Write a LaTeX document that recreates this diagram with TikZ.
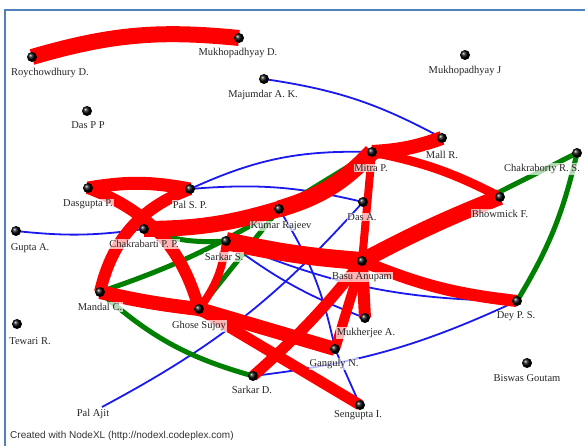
\documentclass[tikz,border=0pt]{standalone}
\usepackage{fontspec}
\setmainfont{Liberation Serif}
\setsansfont{Liberation Sans}
\pgfdeclarelayer{bgfill}
\pgfdeclarelayer{edges}
\pgfsetlayers{bgfill,edges,main}
\definecolor{frameblue}{HTML}{4F81BD}
\definecolor{ngreen}{HTML}{008000}
\definecolor{nblue}{HTML}{1A1AF0}
\definecolor{nred}{HTML}{FF0000}
\tikzset{
  vball/.style={circle, inner sep=0pt, minimum size=10pt, shading=ball, ball color=black},
  vlabel/.style={font=\fontsize{10.5}{11}\selectfont, text=black!85, fill=white, fill opacity=0.7, text opacity=1, inner sep=0.8pt},
  redge/.style={draw=nred, line cap=butt},
  gedge/.style={draw=ngreen, line width=5pt, line cap=butt},
  bedge/.style={draw=nblue, line width=1.8pt},
}
\begin{document}
\begin{tikzpicture}[x=1pt,y=-1pt]
\useasboundingbox (0,0) rectangle (585,446);
\begin{pgfonlayer}{bgfill}
\fill[white] (0,0) rectangle (585,446);
\draw[frameblue, line width=2pt] (5,446) -- (5,10) -- (585,10);
\end{pgfonlayer}

% vertices
\node[vball] (roy) at (32,57) {};
\node[vball] (mukd) at (239,38) {};
\node[vball] (maj) at (264,79) {};
\node[vball] (dpp) at (87,111) {};
\node[vball] (mukj) at (465,55) {};
\node[vball] (dasg) at (88,188) {};
\node[vball] (pal) at (190,189) {};
\node[vball] (gupta) at (16,231) {};
\node[vball] (chak) at (144,229) {};
\node[vball] (sars) at (226,241) {};
\node[vball] (kumar) at (279,209) {};
\node[vball] (mitra) at (372,152) {};
\node[vball] (mall) at (442,138) {};
\node[vball] (dasa) at (363,202) {};
\node[vball] (bhow) at (500,197) {};
\node[vball] (chakr) at (577,153) {};
\node[vball] (basu) at (362,261) {};
\node[vball] (mandal) at (100,292) {};
\node[vball] (ghose) at (199,309) {};
\node[vball] (mukh) at (365,318) {};
\node[vball] (gang) at (335,349) {};
\node[vball] (dey) at (517,301) {};
\node[vball] (tewari) at (17,324) {};
\node[vball] (sard) at (253,376) {};
\node[vball] (sengu) at (360,405) {};
\node[vball] (biswas) at (527,363) {};
\coordinate (palajit) at (102,407);

% labels
\node[vlabel] (roy-l) at (50,73) {Roychowdhury D.};
\node[vlabel] (mukd-l) at (238,53) {Mukhopadhyay D.};
\node[vlabel] (maj-l) at (263,95) {Majumdar A. K.};
\node[vlabel] (dpp-l) at (88,125) {Das P P};
\node[vlabel] (mukj-l) at (465,71) {Mukhopadhyay J};
\node[vlabel] (dasg-l) at (88,204) {Dasgupta P.};
\node[vlabel] (pal-l) at (190,205) {Pal S. P.};
\node[vlabel] (gupta-l) at (30,248) {Gupta A.};
\node[vlabel] (chak-l) at (144,244) {Chakrabarti P. P.};
\node[vlabel] (sars-l) at (224,257) {Sarkar S.};
\node[vlabel] (kumar-l) at (281,226) {Kumar Rajeev};
\node[vlabel] (mitra-l) at (371,168) {Mitra P.};
\node[vlabel] (mall-l) at (442,155) {Mall R.};
\node[vlabel] (dasa-l) at (362,217) {Das A.};
\node[vlabel] (bhow-l) at (500,214) {Bhowmick F.};
\node[vlabel] (chakr-l) at (542,169) {Chakraborty R. S.};
\node[vlabel] (basu-l) at (362,277) {Basu Anupam};
\node[vlabel] (mandal-l) at (100,307) {Mandal C.};
\node[vlabel] (ghose-l) at (199,326) {Ghose Sujoy};
\node[vlabel] (mukh-l) at (366,333) {Mukherjee A.};
\node[vlabel] (gang-l) at (334,364) {Ganguly N.};
\node[vlabel] (dey-l) at (516,316) {Dey P. S.};
\node[vlabel] (tewari-l) at (30,341) {Tewari R.};
\node[vlabel] (sard-l) at (252,390) {Sarkar D.};
\node[vlabel] (sengu-l) at (358,415) {Sengupta I.};
\node[vlabel] (biswas-l) at (527,378) {Biswas Goutam};
\node[vlabel] (palajit-l) at (93,414) {Pal Ajit};
\node[anchor=west, font=\sffamily\fontsize{10}{11}\selectfont, text=black!80, inner sep=0pt] (footer) at (10,436) {Created with NodeXL (http://nodexl.codeplex.com)};

\begin{pgfonlayer}{edges}
% blue edges
\draw[bedge] (maj.center) to[bend left=10] (mall.center);
\draw[bedge] (gupta.center) to[bend right=7] (chak.center);
\draw[bedge] (pal.center) to[bend left=13] (mitra.center);
\draw[bedge] (pal.center) to[bend left=9] (dasa.center);
\draw[bedge] (kumar.center) to[bend left=10] (gang.center);
\draw[bedge] (dasa.center) to[bend left=10] (palajit);
\draw[bedge] (sars.center) to[bend right=8] (mukh.center);
\draw[bedge] (sars.center) to[bend right=11] (dey.center);
\draw[bedge] (sard.center) to[bend right=9] (dey.center);
\draw[bedge] (gang.center) -- (sengu.center);
% green edges
\draw[gedge] (chak.center) to[bend right=12] (sars.center);
\draw[gedge] (mandal.center) to[bend right=6] (kumar.center);
\draw[gedge] (kumar.center) -- (mitra.center);
\draw[gedge] (mandal.center) to[bend right=13] (sard.center);
\draw[gedge] (kumar.center) -- (ghose.center);
\draw[gedge] (basu.center) -- (chakr.center);
\draw[gedge] (chakr.center) to[bend left=9] (dey.center);
% red edges
\draw[redge, line width=16pt] (roy.center) to[bend left=11] (mukd.center);
\draw[redge, line width=13pt] (dasg.center) to[bend left=10] (pal.center);
\draw[redge, line width=12pt] (dasg.center) to[bend left=27] (ghose.center);
\draw[redge, line width=12pt] (pal.center) to[bend right=28] (mandal.center);
\draw[redge, line width=16pt] (chak.center) to[bend right=8] (kumar.center);
\draw[redge, line width=17pt] (kumar.center) to[bend right=15] (mitra.center);
\draw[redge, line width=14pt] (mitra.center) to[bend right=8] (mall.center);
\draw[redge, line width=9pt] (mitra.center) to[bend left=8] (bhow.center);
\draw[redge, line width=8pt] (mitra.center) -- (basu.center);
\draw[redge, line width=16pt] (basu.center) to[bend left=3] (bhow.center);
\draw[redge, line width=12pt] (basu.center) to[bend right=8] (dey.center);
\draw[redge, line width=18pt] (sars.center) to[bend right=4] (basu.center);
\draw[redge, line width=8pt] (sars.center) to[bend left=15] (ghose.center);
\draw[redge, line width=14pt] (mandal.center) to[bend right=3] (ghose.center);
\draw[redge, line width=14pt] (ghose.center) -- (gang.center);
\draw[redge, line width=11pt] (ghose.center) -- (sengu.center);
\draw[redge, line width=11pt] (sard.center) to[bend right=5] (basu.center);
\draw[redge, line width=12pt] (basu.center) -- (mukh.center);
\draw[redge, line width=10pt] (basu.center) -- (gang.center);
\end{pgfonlayer}
\end{tikzpicture}
\end{document}
